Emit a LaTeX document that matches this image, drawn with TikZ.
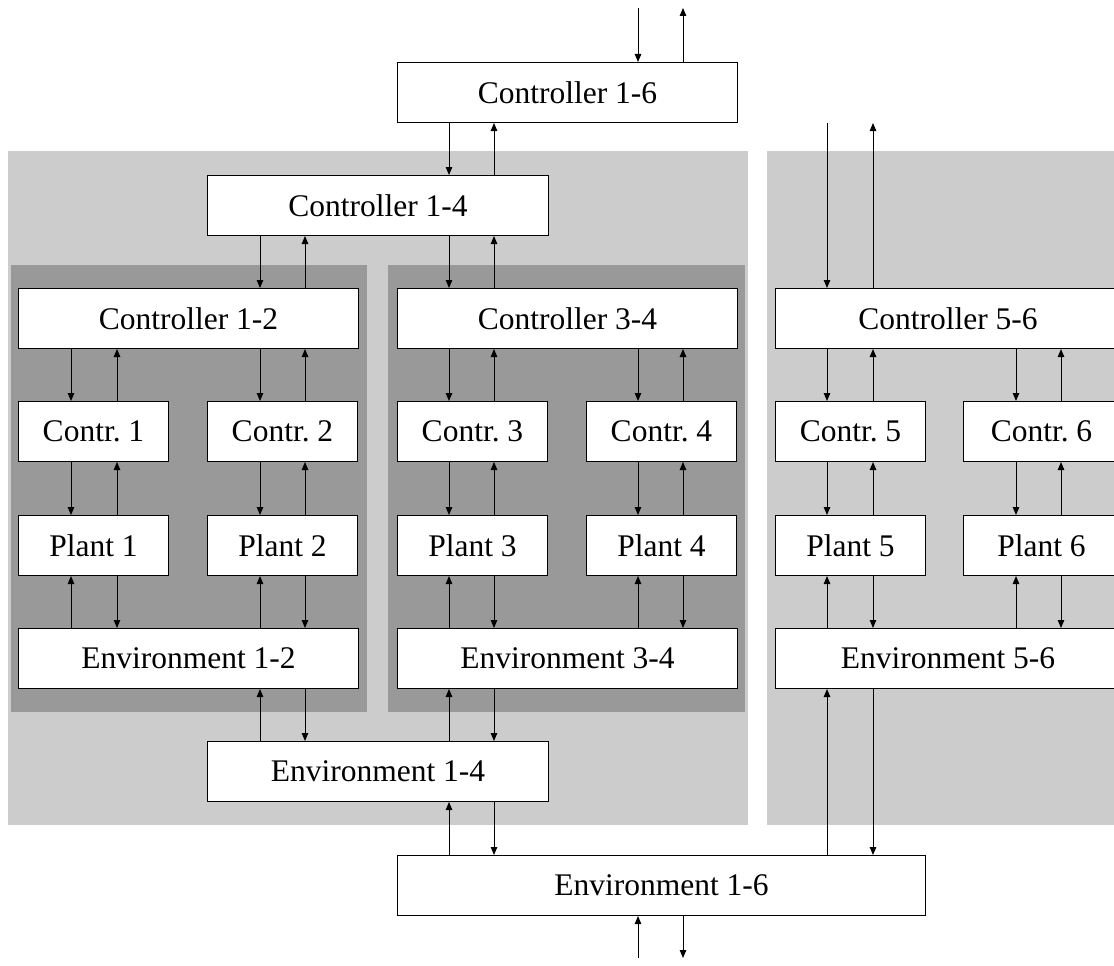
\documentclass[tikz,border=0pt]{standalone}
\usepackage{fontspec}
\setmainfont{Liberation Serif}
\usetikzlibrary{arrows.meta}
\frenchspacing

% controller-side pair: command goes down on the left, feedback goes up on the right
\newcommand{\ctrlpair}[4]{%
  \draw[sig] (#1.south -| #3) -- (#2.north -| #3);
  \draw[sig] (#2.north -| #4) -- (#1.south -| #4);}
% environment-side pair: signal goes up on the left, action goes down on the right
\newcommand{\envpair}[4]{%
  \draw[sig] (#2.north -| #3) -- (#1.south -| #3);
  \draw[sig] (#1.south -| #4) -- (#2.north -| #4);}

\begin{document}
\begin{tikzpicture}[x=1pt,y=-1pt,
  box/.style={draw=black, fill=white, line width=1pt, inner sep=0pt,
    minimum height=60pt, anchor=north west,
    font=\fontsize{31.5}{36}\selectfont},
  small/.style={box, minimum width=150pt},
  wide/.style={box, minimum width=340pt},
  sig/.style={line width=1pt, -{Triangle[length=8pt,width=6.5pt]}},
  lightpanel/.style={fill=black!20, draw=none},
  darkpanel/.style={fill=black!40, draw=none}]

\path[use as bounding box, clip] (0,0) rectangle (1114,966);

% grouping panels
\path[lightpanel] (8,151) rectangle (748,825);
\path[lightpanel] (767,151) rectangle (1140,825);
\path[darkpanel] (11,265) rectangle (367,712);
\path[darkpanel] (388,265) rectangle (745,712);

% columns of the signal lines
\coordinate (xa1) at (71,0);   \coordinate (xb1) at (117,0);
\coordinate (xa2) at (260,0);  \coordinate (xb2) at (305,0);
\coordinate (xa3) at (449,0);  \coordinate (xb3) at (494,0);
\coordinate (xa4) at (638,0);  \coordinate (xb4) at (683,0);
\coordinate (xa5) at (827,0);  \coordinate (xb5) at (873,0);
\coordinate (xa6) at (1016,0); \coordinate (xb6) at (1061,0);

% controllers
\node[wide] (c16) at (397,62) {Controller 1-6};
\node[box, minimum width=341pt] (c14) at (207,175) {Controller 1-4};
\node[wide] (c12) at (18,288) {Controller 1-2};
\node[wide] (c34) at (397,288) {Controller 3-4};
\node[box, minimum width=345pt] (c56) at (775,288) {Controller 5-6};

\node[small] (k1) at (18,401) {Contr. 1};
\node[small] (k2) at (207,401) {Contr. 2};
\node[small] (k3) at (397,401) {Contr. 3};
\node[small] (k4) at (586,401) {Contr. 4};
\node[small] (k5) at (775,401) {Contr. 5};
\node[box, minimum width=156pt] (k6) at (963,401) {Contr. 6};

% plants
\node[small] (p1) at (18,515) {Plant 1};
\node[small] (p2) at (207,515) {Plant 2};
\node[small] (p3) at (397,515) {Plant 3};
\node[small] (p4) at (586,515) {Plant 4};
\node[small] (p5) at (775,515) {Plant 5};
\node[box, minimum width=156pt] (p6) at (963,515) {Plant 6};

% environments
\node[wide] (e12) at (18,628) {Environment 1-2};
\node[wide] (e34) at (397,628) {Environment 3-4};
\node[box, minimum width=345pt] (e56) at (775,628) {Environment 5-6};
\node[box, minimum width=341pt] (e14) at (207,741) {Environment 1-4};
\node[box, minimum width=528pt] (e16) at (397,855) {Environment 1-6};

% external connections
\coordinate (tin) at (638,8);  \coordinate (tout) at (683,8);
\coordinate (bin) at (638,958); \coordinate (bout) at (683,958);
\draw[sig] (tin) -- (c16.north -| tin);
\draw[sig] (c16.north -| tout) -- (tout);
\draw[sig] (bin) -- (e16.south -| bin);
\draw[sig] (e16.south -| bout) -- (bout);

% controller hierarchy
\ctrlpair{c16}{c14}{xa3}{xb3}
\ctrlpair{c16}{c56}{xa5}{xb5}
\ctrlpair{c14}{c12}{xa2}{xb2}
\ctrlpair{c14}{c34}{xa3}{xb3}
\ctrlpair{c12}{k1}{xa1}{xb1}
\ctrlpair{c12}{k2}{xa2}{xb2}
\ctrlpair{c34}{k3}{xa3}{xb3}
\ctrlpair{c34}{k4}{xa4}{xb4}
\ctrlpair{c56}{k5}{xa5}{xb5}
\ctrlpair{c56}{k6}{xa6}{xb6}

% local controllers to plants
\ctrlpair{k1}{p1}{xa1}{xb1}
\ctrlpair{k2}{p2}{xa2}{xb2}
\ctrlpair{k3}{p3}{xa3}{xb3}
\ctrlpair{k4}{p4}{xa4}{xb4}
\ctrlpair{k5}{p5}{xa5}{xb5}
\ctrlpair{k6}{p6}{xa6}{xb6}

% plants to environments
\envpair{p1}{e12}{xa1}{xb1}
\envpair{p2}{e12}{xa2}{xb2}
\envpair{p3}{e34}{xa3}{xb3}
\envpair{p4}{e34}{xa4}{xb4}
\envpair{p5}{e56}{xa5}{xb5}
\envpair{p6}{e56}{xa6}{xb6}

% environment hierarchy
\envpair{e12}{e14}{xa2}{xb2}
\envpair{e34}{e14}{xa3}{xb3}
\envpair{e14}{e16}{xa3}{xb3}
\envpair{e56}{e16}{xa5}{xb5}

\end{tikzpicture}
\end{document}
